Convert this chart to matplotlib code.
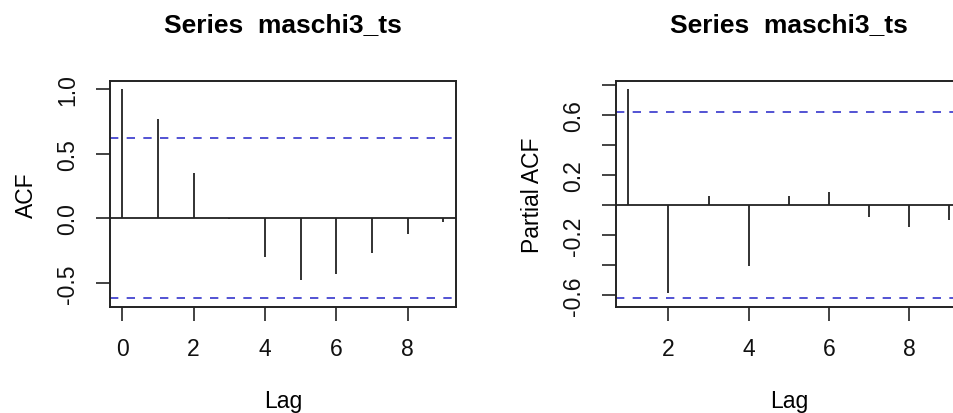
import matplotlib
matplotlib.use("Agg")
import matplotlib.pyplot as plt
import numpy as np

plt.rcParams['font.family'] = ['Liberation Sans', 'DejaVu Sans']

# sample autocorrelations of maschi3_ts (n = 10)
acf_lags = [0, 1, 2, 3, 4, 5, 6, 7, 8, 9]
acf_vals = [1.0, 0.770, 0.353, -0.004, -0.301, -0.474, -0.435, -0.270, -0.118, -0.028]

pacf_lags = [1, 2, 3, 4, 5, 6, 7, 8, 9]
pacf_vals = [0.770, -0.587, 0.064, -0.404, 0.058, 0.086, -0.077, -0.146, -0.099]

n_obs = 10
conf_lim = 1.96 / np.sqrt(n_obs)

title = "Series  maschi3_ts"
acf_xticks = [0, 2, 4, 6, 8]
acf_yticks = [-0.5, 0.0, 0.5, 1.0]
acf_yticklabels = ["-0.5", "0.0", "0.5", "1.0"]
pacf_xticks = [2, 4, 6, 8]
pacf_yticks = [-0.6, -0.4, -0.2, 0.0, 0.2, 0.4, 0.6, 0.8]
pacf_yticklabels = ["-0.6", "", "-0.2", "", "0.2", "", "0.6", ""]

ink = "#222222"
ci_color = "#3535cc"


def r_pad(lo, hi):
    d = (hi - lo) * 0.04
    return lo - d, hi + d


def corr_panel(ax, lags, vals, ylabel, xticks, yticks, yticklabels, ylab_x):
    ax.vlines(lags, 0, vals, color=ink, lw=1.3)
    ax.axhline(0, color=ink, lw=1.3)
    for c in (conf_lim, -conf_lim):
        ax.axhline(c, color=ci_color, lw=1.2, linestyle=(0, (5, 5)))
    ax.set_xlim(*r_pad(min(lags), max(lags)))
    ax.set_ylim(*r_pad(min(min(vals), -conf_lim), max(max(vals), conf_lim)))

    ax.set_xticks(xticks)
    ax.set_yticks(yticks)
    ax.set_yticklabels(yticklabels, rotation=90, va="center")
    ax.tick_params(length=10, width=1.2, color=ink, labelsize=16.5, pad=12,
                   labelcolor="#111111")
    for s in ax.spines.values():
        s.set_linewidth(1.4)
        s.set_color(ink)

    ax.set_title(title, fontsize=19, fontweight="bold", pad=36)
    ax.set_xlabel("Lag", fontsize=16.5)
    ax.set_ylabel(ylabel, fontsize=16.5)
    ax.xaxis.set_label_coords(0.5, -0.365)
    ax.yaxis.set_label_coords(ylab_x, 0.5)


fig = plt.figure(figsize=(9.54, 4.14), dpi=100)
ax1 = fig.add_axes([0.1148, 0.2568, 0.3632, 0.5451])
ax2 = fig.add_axes([0.6452, 0.2568, 0.3632, 0.5451])

corr_panel(ax1, acf_lags, acf_vals, "ACF", acf_xticks, acf_yticks,
           acf_yticklabels, -0.207)
corr_panel(ax2, pacf_lags, pacf_vals, "Partial ACF", pacf_xticks, pacf_yticks,
           pacf_yticklabels, -0.205)

fig.savefig("out.png", dpi=100)
